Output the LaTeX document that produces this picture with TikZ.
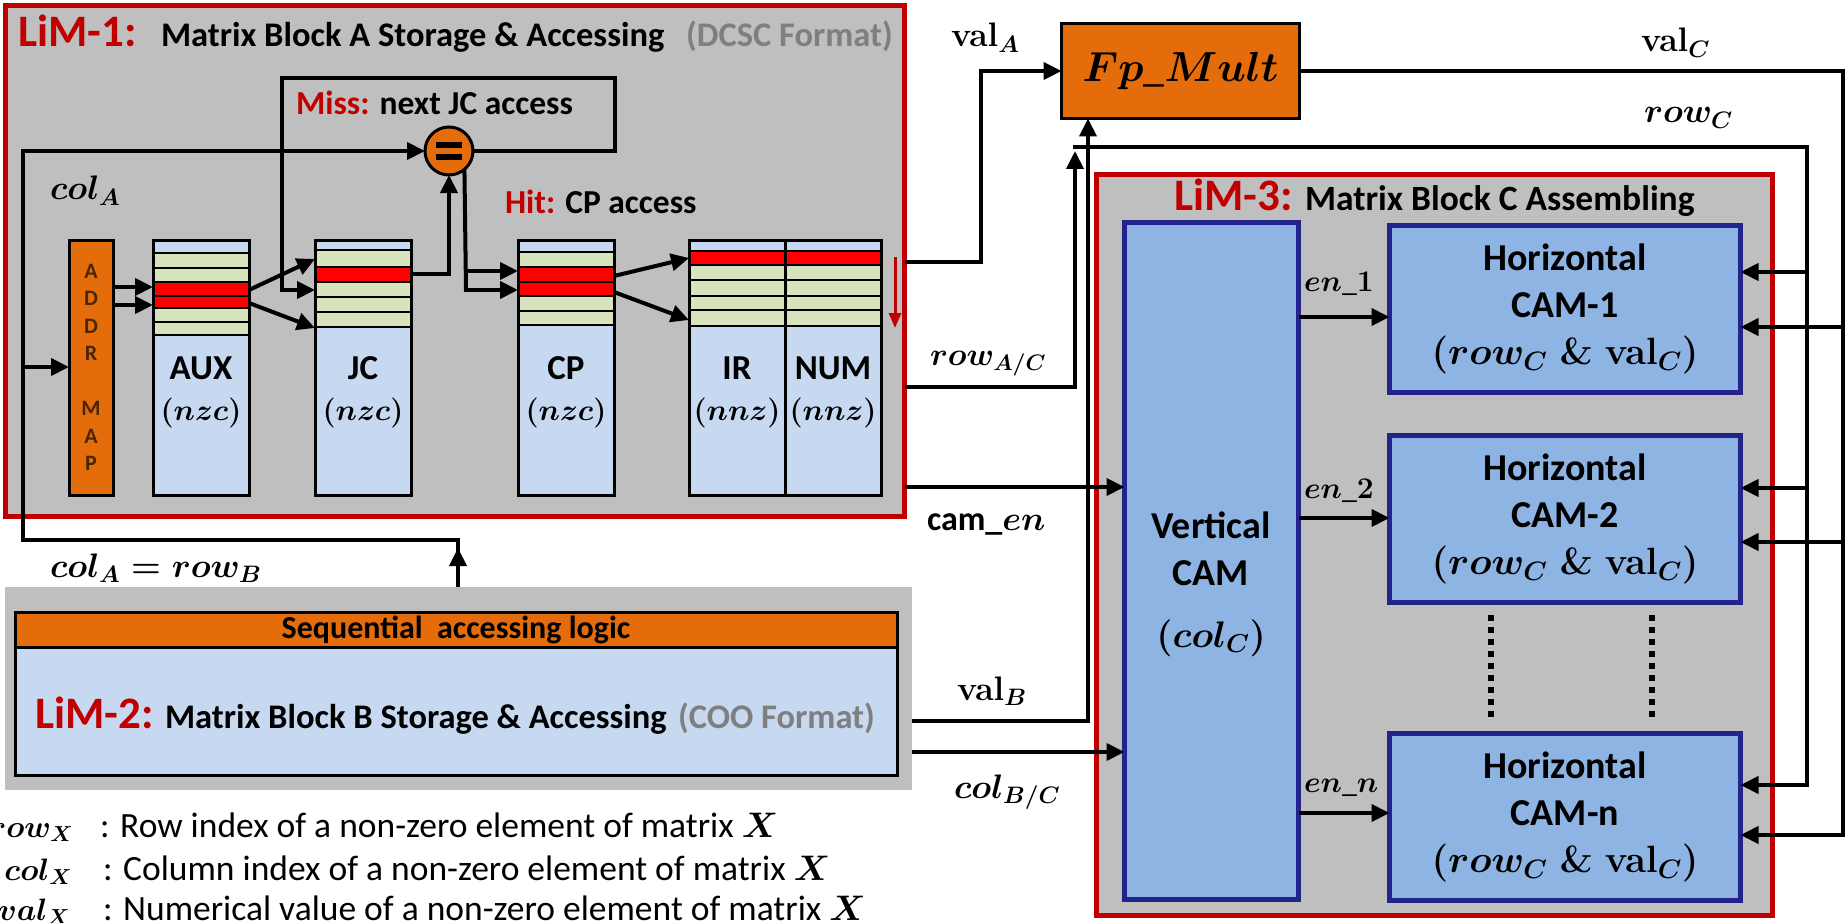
\RequirePackage{fix-cm}
\documentclass[tikz,border=0pt]{standalone}
\usepackage[no-math]{fontspec}
\setmainfont{Carlito}
\usepackage{bm}
\usetikzlibrary{arrows.meta,calc}
\definecolor{limgray}{HTML}{BFBFBF}
\definecolor{limred}{HTML}{C00000}
\definecolor{orng}{HTML}{E46C0A}
\definecolor{lblue}{HTML}{C6D9F1}
\definecolor{lgreen}{HTML}{D7E4BD}
\definecolor{rowred}{HTML}{FF0000}
\definecolor{camblue}{HTML}{8DB4E2}
\definecolor{navy}{HTML}{23238C}
\definecolor{txtgray}{HTML}{7F7F7F}
\definecolor{addrtxt}{HTML}{4A2600}
\newcommand{\fsz}[1]{\fontsize{#1}{#1}\selectfont}
\begin{document}
\begin{tikzpicture}[x=1pt,y=-1pt,
  every node/.style={inner sep=0pt,outer sep=0pt},
  con/.style={line width=4pt},
  arr/.style={line width=4pt,-{Triangle[length=18pt,width=17pt]}},
  limbox/.style={draw=limred,line width=5pt,fill=limgray,anchor=north west},
  memcol/.style={draw=black,line width=3pt,fill=lblue,anchor=north west,minimum width=96pt,minimum height=255pt},
  cambox/.style={draw=navy,line width=5pt,fill=camblue,anchor=north west},
  ttl/.style={font=\bfseries\fsz{45},text=limred,anchor=base west},
  subttl/.style={font=\bfseries\fsz{34.5},anchor=base west},
  mth/.style={font=\bfseries\boldmath\fsz{34},anchor=base west},
  lbl/.style={font=\bfseries\fsz{35}},
  lblm/.style={font=\boldmath\fsz{30}},
  camtxt/.style={font=\bfseries\boldmath\fontsize{38}{47}\selectfont,align=center},
  rowbox/.style={draw=black,line width=2.5pt}
]
\useasboundingbox (0,0) rectangle (1845,923);
\fill[white] (0,0) rectangle (1845,923);

% ---------------- LiM-1 ----------------
\node[limbox,minimum width=899pt,minimum height=511pt] (lim1) at (5.5,5.5) {};
\node[ttl] (t1a) at (18,47) {LiM-1:};
\node[subttl] (t1b) at (161,47) {Matrix Block A Storage \& Accessing};
\node[subttl,text=txtgray] (t1c) at (686,47) {(DCSC Format)};
\node[subttl,font=\bfseries\fsz{33.5}] (miss) at (296,115) {\textcolor{limred}{Miss:} next JC access};
\node[subttl,font=\bfseries\fsz{33.5}] (hit) at (505,213) {\textcolor{limred}{Hit:} CP access};
\node[mth] (colA) at (50,200) {$col_A$};

% ADDR MAP
\node[draw=black,line width=3pt,fill=orng,anchor=north west,minimum width=44pt,minimum height=255pt,
      font=\bfseries\fontsize{22}{27.5}\selectfont,text=addrtxt,align=center] (addr) at (69,240)
      {A\\D\\D\\R\\[27.5pt]M\\A\\P};

% memory columns
\node[memcol] (aux) at (153,240) {};
\node[memcol] (jc) at (315,240) {};
\node[memcol] (cp) at (518,240) {};
\node[memcol] (ir) at (689,240) {};
\node[memcol] (num) at (785,240) {};
\foreach \a/\b/\c in {253/268/lgreen,268/282/lgreen,282/296/rowred,296/308/rowred,308/322/lgreen,322/335/lgreen}
  \filldraw[rowbox,fill=\c] (153,\a) rectangle (249,\b);
\foreach \a/\b/\c in {250/267/lgreen,267/282/rowred,282/297/lgreen,297/312/lgreen,312/327/lgreen}
  \filldraw[rowbox,fill=\c] (315,\a) rectangle (411,\b);
\foreach \a/\b/\c in {252/267/lgreen,267/282/rowred,282/296/rowred,296/311/lgreen,311/325/lgreen}
  \filldraw[rowbox,fill=\c] (518,\a) rectangle (614,\b);
\foreach \a/\b/\c in {251/265/rowred,265/280/lgreen,280/296/lgreen,296/310/lgreen,310/326/lgreen}
  {\filldraw[rowbox,fill=\c] (689,\a) rectangle (785,\b);
   \filldraw[rowbox,fill=\c] (785,\a) rectangle (881,\b);}
\foreach \n in {aux,jc,cp,ir,num}
  \draw[line width=3pt] (\n.north west) rectangle (\n.south east);

\node[lbl] (auxl) at (aux.center |- 0,368) {AUX};
\node[lblm] (auxn) at (aux.center |- 0,413) {$(nzc)$};
\node[lbl] (jcl) at (jc.center |- 0,368) {JC};
\node[lblm] (jcn) at (jc.center |- 0,413) {$(nzc)$};
\node[lbl] (cpl) at (cp.center |- 0,368) {CP};
\node[lblm] (cpn) at (cp.center |- 0,413) {$(nzc)$};
\node[lbl] (irl) at (ir.center |- 0,368) {IR};
\node[lblm] (irn) at (ir.center |- 0,413) {$(nnz)$};
\node[lbl] (numl) at (num.center |- 0,368) {NUM};
\node[lblm] (numn) at (num.center |- 0,413) {$(nnz)$};

% comparator
\node[circle,draw=black,line width=3pt,fill=orng,minimum size=48pt] (eq) at (449,151) {};
\fill ($(eq.center)+(-13,-9)$) rectangle ++(26,6);
\fill ($(eq.center)+(-13,3)$) rectangle ++(26,6);

% LiM-1 internal connectors
\draw[arr] (eq.east) -- (615,151) -- (615,78) -- (282,78) -- (282,290) -- (jc.west |- 0,290);
\draw[arr] (addr.east |- 0,287) -- (aux.west |- 0,287);
\draw[arr] (addr.east |- 0,305) -- (aux.west |- 0,305);
\draw[arr] (aux.east |- 0,290) -- (jc.west |- 0,259);
\draw[arr] (aux.east |- 0,303) -- (jc.west |- 0,328);
\draw[arr] (jc.east |- 0,274) -| (eq.south);
\draw[con] (eq.-50) -- (466,290);
\draw[arr] (464,290) -- (cp.west |- 0,290);
\draw[arr] (466,271) -- (cp.west |- 0,271);
\draw[arr] (cp.east |- 0,276) -- (ir.west |- 0,258);
\draw[arr] (cp.east |- 0,292) -- (ir.west |- 0,320);
\draw[line width=3pt,draw=limred,-{Triangle[length=15pt,width=12pt]}] (895,257) -- (895,328);

% ---------------- LiM-2 ----------------
\node[fill=limgray,anchor=north west,minimum width=907pt,minimum height=203pt] (lim2bg) at (5,587) {};
\node[draw=black,line width=3pt,fill=lblue,anchor=north west,minimum width=882pt,minimum height=163pt] (lim2) at (15,612) {};
\node[draw=black,line width=3pt,fill=orng,anchor=north west,minimum width=882pt,minimum height=35pt,
      font=\bfseries\fsz{32}] (seq) at (15,612) {Sequential~ accessing logic};
\node[ttl] (t2a) at (35,728) {LiM-2:};
\node[subttl] (t2b) at (165,728) {Matrix Block B Storage \& Accessing};
\node[subttl,text=txtgray] (t2c) at (678,728) {(COO Format)};

% col_A feedback path
\draw[con] (lim2bg.north -| 458,0) -- (458,540) -- (21,540) -- (23,540) -- (23,151);
\draw[arr] (458,587) -- (458,548);
\draw[arr] (21,151) -- (eq.west);
\draw[arr] (23,367) -- (addr.west |- 0,367);
\node[mth] (colArowB) at (50,577) {$col_A = row_B$};

% ---------------- Fp_Mult ----------------
\node[draw=black,line width=3pt,fill=orng,anchor=north west,minimum width=238pt,minimum height=95pt,
      font=\boldmath\fsz{42}] (fp) at (1061.5,23.5) {$Fp\_Mult$};

% ---------------- LiM-3 ----------------
\node[limbox,minimum width=676pt,minimum height=741pt] (lim3) at (1096.5,174.5) {};
\node[ttl] (t3a) at (1174,210) {LiM-3:};
\node[subttl,font=\bfseries\fsz{35.5}] (t3b) at (1305,210) {Matrix Block C Assembling};

\node[cambox,minimum width=174pt,minimum height=677pt] (vcam) at (1124.5,222.5) {};
\node[font=\bfseries\fsz{38}] (vt1) at (1211,525) {Vertical};
\node[font=\bfseries\fsz{38}] (vt2) at (1211,573) {CAM};
\node[font=\boldmath\fsz{37}] (vt3) at (1211,638) {$(col_C)$};

\node[cambox,camtxt,minimum width=351pt,minimum height=167pt] (cam1) at (1389.5,225.5)
  {Horizontal\\CAM-1\\$(row_C\;\&\;\mathbf{val}_C)$};
\node[cambox,camtxt,minimum width=351pt,minimum height=167pt] (cam2) at (1389.5,435.5)
  {Horizontal\\CAM-2\\$(row_C\;\&\;\mathbf{val}_C)$};
\node[cambox,camtxt,minimum width=351pt,minimum height=167pt] (camn) at (1389.5,733.5)
  {Horizontal\\CAM-n\\$(row_C\;\&\;\mathbf{val}_C)$};
\draw[line width=6pt,dash pattern=on 6pt off 6pt] (1491,615) -- (1491,720);
\draw[line width=6pt,dash pattern=on 6pt off 6pt] (1652,615) -- (1652,720);

% en arrows
\draw[arr] (vcam.east |- 0,317) -- (cam1.west |- 0,317);
\draw[arr] (vcam.east |- 0,518) -- (cam2.west |- 0,518);
\draw[arr] (vcam.east |- 0,813) -- (camn.west |- 0,813);
\node[mth,font=\boldmath\fsz{30}] (en1) at (1304,291) {$en\_1$};
\node[mth,font=\boldmath\fsz{30}] (en2) at (1304,498) {$en\_2$};
\node[mth,font=\boldmath\fsz{30}] (enn) at (1304,792) {$en\_n$};

% ---------------- inter-block connectors ----------------
\draw[arr] (lim1.east |- 0,262) -- (981,262) -- (981,71) -- (fp.west);
\node[mth] (valA) at (951,47) {$\mathbf{val}_A$};

\draw[con] (fp.east) -- (1843,71) -- (1843,835);
\draw[arr] (1843,327) -- (cam1.east |- 0,327);
\draw[arr] (1843,542) -- (cam2.east |- 0,542);
\draw[arr] (1845,835) -- (camn.east |- 0,835);
\node[mth] (valC) at (1641,52) {$\mathbf{val}_C$};

\draw[arr] (lim1.east |- 0,387) -- (1075,387) -- (1075,151);
\draw[con] (1073,147) -- (1807,147) -- (1807,785);
\draw[arr] (1809,272) -- (cam1.east |- 0,272);
\draw[arr] (1809,488) -- (cam2.east |- 0,488);
\draw[arr] (1809,785) -- (camn.east |- 0,785);
\node[mth] (rowC) at (1644,123) {$row_C$};
\node[mth,font=\boldmath\fsz{32}] (rowAC) at (930,365) {$row_{A/C}$};

\draw[arr] (lim2bg.east |- 0,721) -- (1088,721) -- (fp.south -| 1088,0);
\node[mth] (valB) at (957,700) {$\mathbf{val}_B$};

\draw[arr] (lim1.east |- 0,487) -- (vcam.west |- 0,487);
\node[mth] (camen) at (927,530) {cam\_$en$};

\draw[arr] (lim2bg.east |- 0,752) -- (vcam.west |- 0,752);
\node[mth] (colBC) at (954,798) {$col_{B/C}$};

% ---------------- legend ----------------
\node[anchor=base east,font=\boldmath\fsz{31}] (lg1m) at (73,837) {$row_X$};
\node[anchor=base west,font=\fsz{35.5}] (lg1t) at (100,837) {: Row index of a non-zero element of matrix $\bm{X}$};
\node[anchor=base east,font=\boldmath\fsz{31}] (lg2m) at (72,880) {$col_X$};
\node[anchor=base west,font=\fsz{35.5}] (lg2t) at (103,880) {: Column index of a non-zero element of matrix $\bm{X}$};
\node[anchor=base east,font=\boldmath\fsz{31}] (lg3m) at (70,920) {$val_X$};
\node[anchor=base west,font=\fsz{35.5}] (lg3t) at (103,920) {: Numerical value of a non-zero element of matrix $\bm{X}$};
\end{tikzpicture}
\end{document}
